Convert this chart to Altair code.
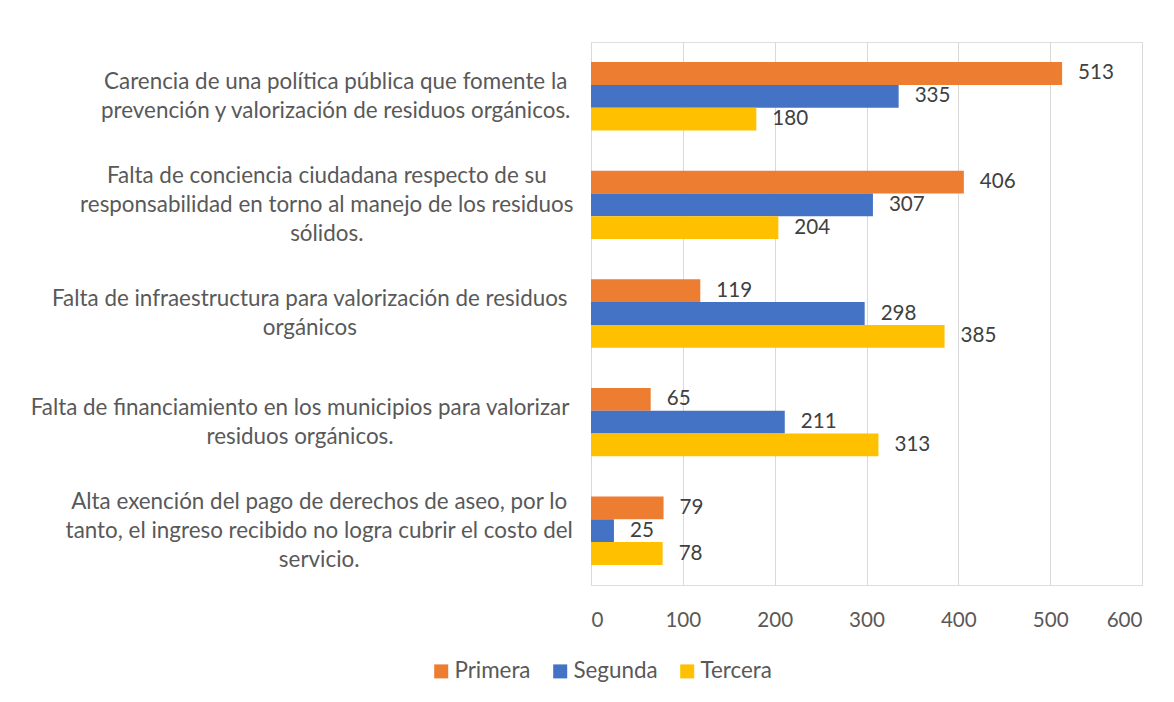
import json
import altair as alt
import pandas as pd

categories = [
    "Carencia de una política pública que fomente la|prevención y valorización de residuos orgánicos.",
    "Falta de conciencia ciudadana respecto de su|responsabilidad en torno al manejo de los residuos|sólidos.",
    "Falta de infraestructura para valorización de residuos|orgánicos",
    "Falta de financiamiento en los municipios para valorizar|residuos orgánicos.",
    "Alta exención del pago de derechos de aseo, por lo|tanto, el ingreso recibido no logra cubrir el costo del|servicio.",
]
series = ["Primera", "Segunda", "Tercera"]
primera = [513, 406, 119, 65, 79]
segunda = [335, 307, 298, 211, 25]
tercera = [180, 204, 385, 313, 78]
x_ticks = [0, 100, 200, 300, 400, 500, 600]
colors = ["#ED7D31", "#4472C4", "#FFC000"]

rows = []
for i, c in enumerate(categories):
    for s, vals in zip(series, [primera, segunda, tercera]):
        rows.append({"Categoria": c, "Serie": s, "Valor": vals[i]})
df = pd.DataFrame(rows)

FONT = "Lato"
FS_CAT = 22.4
FS_NUM = 20.6
LINE_H = 29


def text_w(s):
    # rough relative glyph widths, calibrated for Lato
    w = 0.0
    for ch in s:
        if ch in " .,;:'!|ilj":
            w += 0.5
        elif ch in "frt":
            w += 0.72
        elif ch in "mw":
            w += 1.55
        elif ch.isupper():
            w += 1.2
        else:
            w += 1.0
    return w


K = 539 / text_w("Falta de financiamiento en los municipios para valorizar")


def pad(label):
    w = max(text_w(l) for l in label.split("|")) * K
    return 22 + w / 2


def off(label):
    n = len(label.split("|"))
    return -(n - 1) * LINE_H / 2


label_pad = {
    "condition": [
        {"test": f"datum.value == {json.dumps(c)}", "value": round(pad(c), 1)} for c in categories
    ],
    "value": 250,
}
label_off = {
    "condition": [
        {"test": f"datum.value == {json.dumps(c)}", "value": off(c)} for c in categories
    ],
    "value": 0,
}

y = alt.Y(
    "Categoria:N",
    sort=categories,
    scale=alt.Scale(paddingInner=0.37, paddingOuter=0.185),
    axis=alt.Axis(
        title=None,
        labelExpr="split(datum.label, '|')",
        labelAlign="center",
        labelBaseline="middle",
        labelPadding=label_pad,
        labelOffset=label_off,
        labelFontSize=FS_CAT,
        labelLineHeight=LINE_H,
        labelColor="#595959",
        labelFont=FONT,
        labelLimit=0,
        domain=False,
        ticks=False,
        grid=False,
    ),
)
x = alt.X(
    "Valor:Q",
    scale=alt.Scale(domain=[0, 600], nice=False),
    axis=alt.Axis(
        title=None,
        values=x_ticks,
        grid=True,
        gridColor="#d9d9d9",
        gridWidth=1,
        domain=False,
        ticks=False,
        labelPadding=25,
        labelFontSize=FS_NUM,
        labelColor="#595959",
        labelFont=FONT,
    ),
)
yoff = alt.YOffset("Serie:N", sort=series, scale=alt.Scale(paddingInner=0, paddingOuter=0))
color = alt.Color(
    "Serie:N",
    sort=series,
    scale=alt.Scale(domain=series, range=colors),
    legend=alt.Legend(
        title=None,
        orient="none",
        direction="horizontal",
        legendX=-161,
        legendY=618,
        padding=0,
        symbolType="square",
        symbolSize=196,
        symbolStrokeWidth=0,
        labelFontSize=FS_CAT,
        labelColor="#595959",
        labelFont=FONT,
        labelOffset=2,
        columnPadding=18,
    ),
)

base = alt.Chart(df)
bars = base.mark_bar().encode(x=x, y=y, yOffset=yoff, color=color)
texts = base.mark_text(
    align="left", baseline="middle", dx=16, fontSize=FS_NUM, color="#404040", font=FONT
).encode(x=x, y=y, yOffset=yoff, text="Valor:Q")

chart = (
    alt.layer(bars, texts)
    .properties(
        width=551,
        height=543,
        autosize=alt.AutoSizeParams(type="none"),
        padding={"left": 583, "top": 34, "right": 24, "bottom": 109},
    )
    .configure_view(stroke=None)
    .configure(background="white")
)

chart.save("out.html", embed_options={"renderer": "svg", "actions": False})
